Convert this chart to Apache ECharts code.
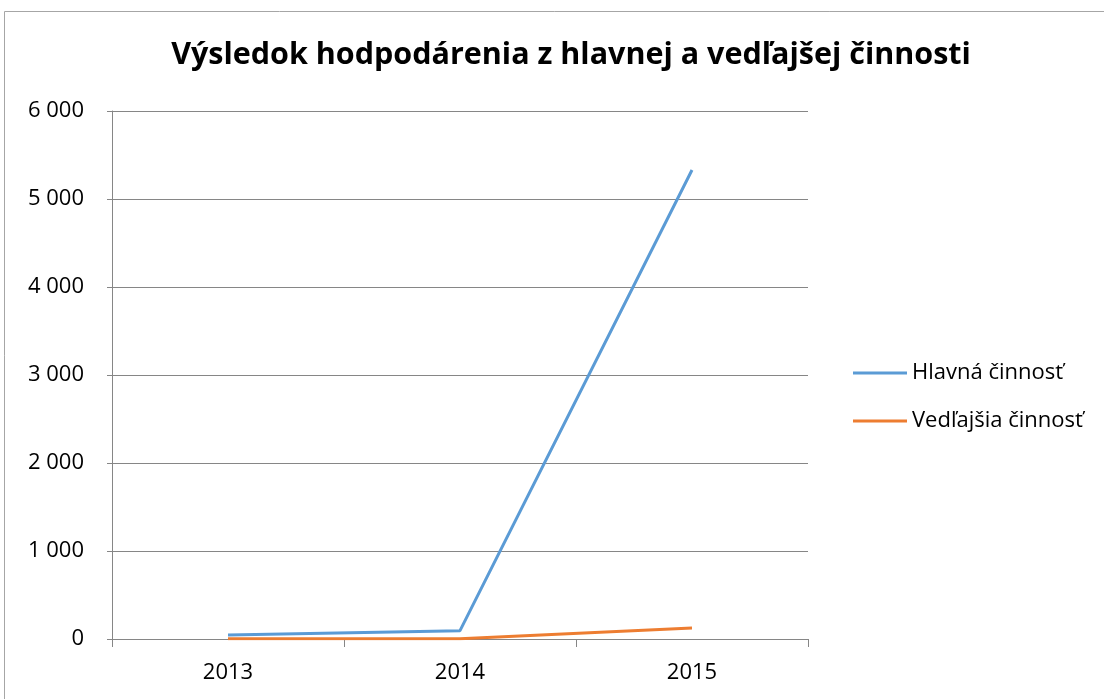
<!DOCTYPE html>
<html><head><meta charset="utf-8">
<script src="https://cdn.jsdelivr.net/npm/echarts@6/dist/echarts.min.js"></script>
<style>html,body{margin:0;padding:0;background:#fff}#c{width:1104px;height:699px}</style>
</head><body><div id="c"></div>
<script>
const titleText = 'Výsledok hodpodárenia z hlavnej a vedľajšej činnosti';
const categories = ['2013', '2014', '2015'];
const hlavna = [45, 95, 5330];
const vedlajsia = [2, 2, 125];
const seriesNames = ['Hlavná činnosť', 'Vedľajšia činnosť'];
const fontFam = '"Open Sans", Lato, sans-serif';

const chart = echarts.init(document.getElementById('c'));
chart.setOption({
  animation: false,
  backgroundColor: '#fff',
  graphic: [{type:'rect', shape:{x:4.5,y:11.5,width:1110,height:700}, style:{fill:'none',stroke:'#a6a6a6',lineWidth:1}}],
  title: {text: titleText, top: 35, left: 566, textAlign: 'center',
    textStyle:{fontFamily: fontFam, fontWeight:'bold', fontSize: 30.5, color:'#000'}},
  grid: {left:112, right:296, top:111, bottom:60},
  legend: {orient:'vertical', left: 848, top: 357, itemWidth: 54, itemHeight: 3, itemGap: 26,
    icon: 'rect',
    textStyle:{fontFamily: fontFam, fontSize: 22, color:'#000'},
    data: seriesNames},
  xAxis: {type:'category', data: categories, boundaryGap: true,
    axisLine:{lineStyle:{color:'#868686', width:1}},
    axisTick:{show:true, length:8, lineStyle:{color:'#868686'}},
    axisLabel:{fontFamily: fontFam, fontSize: 22, color:'#000', margin: 23}},
  yAxis: {type:'value', min:0, max:6000, interval:1000,
    axisLine:{show:true, lineStyle:{color:'#868686'}},
    axisTick:{show:true, length:5, lineStyle:{color:'#868686'}},
    splitLine:{lineStyle:{color:'#868686'}},
    axisLabel:{fontFamily: fontFam, fontSize: 22, color:'#000', margin: 28,
      formatter: v => String(v).replace(/\B(?=(\d{3})+(?!\d))/g, ' ')}},
  series: [
    {name: seriesNames[0], type:'line', data: hlavna, symbol:'none', lineStyle:{width:3, color:'#5B9BD5'}, itemStyle:{color:'#5B9BD5'}},
    {name: seriesNames[1], type:'line', data: vedlajsia, symbol:'none', lineStyle:{width:3, color:'#ED7D31'}, itemStyle:{color:'#ED7D31'}}
  ]
});
</script></body></html>
